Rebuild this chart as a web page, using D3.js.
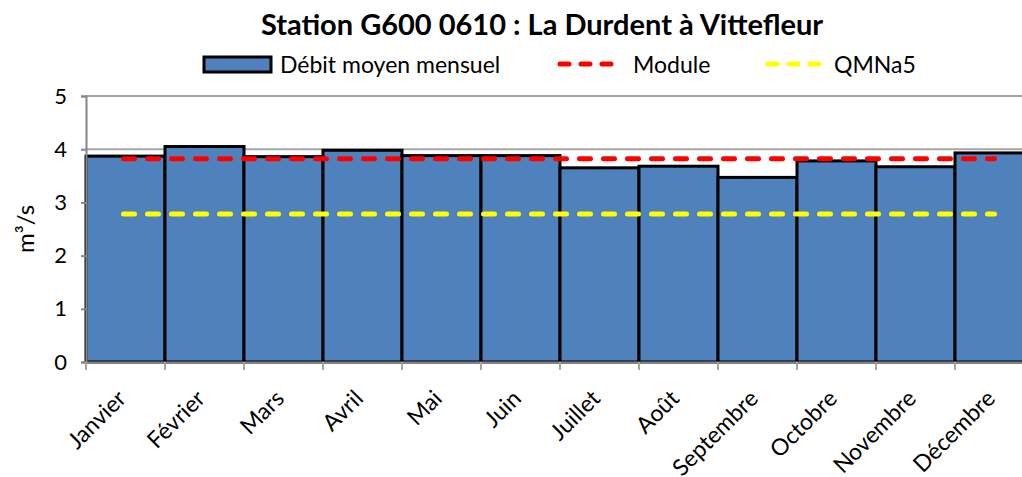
<!doctype html>
<meta charset="utf-8">
<title>Station G600 0610</title>
<style>
  body { margin: 0; background: #fff; }
  text { font-family: Lato, "Open Sans", sans-serif; fill: #000; }
</style>
<svg id="chart" width="1022" height="477"></svg>
<script src="https://cdn.jsdelivr.net/npm/d3@7"></script>
<script>

// months
var months = ["Janvier", "Février", "Mars", "Avril", "Mai", "Juin", "Juillet",
  "Août", "Septembre", "Octobre", "Novembre", "Décembre"];

// monthly mean flow (m3/s)
var debit = [3.87, 4.05, 3.86, 3.98, 3.88, 3.88, 3.65, 3.68, 3.47, 3.78, 3.67, 3.93];

// reference levels
var moduleVal = 3.82;
var qmna5 = 2.78;

var yTicks = [0, 1, 2, 3, 4, 5];

var svg = d3.select("#chart");
var plotLeft = 86, plotTop = 96, plotBottom = 362, bandW = 79;

var x = d3.scaleBand()
  .domain(months)
  .range([plotLeft, plotLeft + bandW * months.length])
  .padding(0);

var y = d3.scaleLinear()
  .domain([0, 5])
  .range([plotBottom, plotTop]);

// gridlines
svg.append("g")
  .selectAll("line")
  .data(yTicks.slice(1))
  .enter()
  .append("line")
  .attr("x1", plotLeft)
  .attr("x2", x.range()[1])
  .attr("y1", function(d) { return y(d); })
  .attr("y2", function(d) { return y(d); })
  .attr("stroke", "#a6a6a6")
  .attr("stroke-width", 2);

// bars
svg.append("g")
  .selectAll("rect")
  .data(debit)
  .enter()
  .append("rect")
  .attr("x", function(d, i) { return x(months[i]); })
  .attr("y", function(d) { return y(d); })
  .attr("width", x.bandwidth())
  .attr("height", function(d) { return y(0) - y(d); })
  .attr("fill", "#4f81bd")
  .attr("stroke", "#000")
  .attr("stroke-width", 3);

// y axis
var yAxis = svg.append("g")
  .attr("transform", "translate(" + plotLeft + ",0)")
  .call(d3.axisLeft(y).tickValues(yTicks).tickFormat(d3.format("d")).tickSize(5).tickPadding(14));
yAxis.select(".domain").attr("stroke", "#868686").attr("stroke-width", 2);
yAxis.selectAll(".tick line").attr("stroke", "#868686").attr("stroke-width", 2);
yAxis.selectAll("text").attr("font-size", 22).attr("font-family", "Lato, sans-serif").attr("fill", "#000");

// x axis
var xAxis = svg.append("g")
  .attr("transform", "translate(0," + plotBottom + ")")
  .call(d3.axisBottom(x).tickSize(0).tickFormat(""));
xAxis.select(".domain").attr("stroke", "#868686").attr("stroke-width", 2);

svg.append("g")
  .selectAll("line")
  .data(d3.range(months.length + 1))
  .enter()
  .append("line")
  .attr("x1", function(i) { return plotLeft + i * x.step(); })
  .attr("x2", function(i) { return plotLeft + i * x.step(); })
  .attr("y1", plotBottom)
  .attr("y2", plotBottom + 8)
  .attr("stroke", "#a6a6a6")
  .attr("stroke-width", 2);

svg.append("g")
  .selectAll("text")
  .data(months)
  .enter()
  .append("text")
  .attr("transform", function(d) {
    return "translate(" + (x(d) + x.bandwidth() / 2 + 2) + "," + (plotBottom + 38) + ") rotate(-45)";
  })
  .attr("text-anchor", "end")
  .attr("font-size", 23)
  .text(function(d) { return d; });

// reference lines
var xMid = function(m) { return x(m) + x.bandwidth() / 2; };
[[moduleVal, "#ff0000"], [qmna5, "#ffff00"]].forEach(function(r) {
  svg.append("line")
    .attr("x1", xMid(months[0]) - 2)
    .attr("x2", xMid(months[months.length - 1]))
    .attr("y1", y(r[0]))
    .attr("y2", y(r[0]))
    .attr("stroke", r[1])
    .attr("stroke-width", 5)
    .attr("stroke-linecap", "round")
    .attr("stroke-dasharray", "11,13");
});

// y title
svg.append("text")
  .attr("transform", "translate(34,229) rotate(-90)")
  .attr("text-anchor", "middle")
  .attr("font-size", 24)
  .text("m³/s");

// title
svg.append("text")
  .attr("x", 542)
  .attr("y", 35)
  .attr("text-anchor", "middle")
  .attr("font-size", 29)
  .attr("font-weight", "bold")
  .text("Station G600 0610 : La Durdent à Vittefleur");

// legend
var legend = svg.append("g");
legend.append("rect")
  .attr("x", 204).attr("y", 57).attr("width", 67).attr("height", 15)
  .attr("fill", "#4f81bd").attr("stroke", "#000").attr("stroke-width", 3);
legend.append("text").attr("x", 280).attr("y", 73).attr("font-size", 23).text("Débit moyen mensuel");
legend.append("line")
  .attr("x1", 560).attr("x2", 612).attr("y1", 64).attr("y2", 64)
  .attr("stroke", "#ff0000").attr("stroke-width", 5)
  .attr("stroke-linecap", "round").attr("stroke-dasharray", "9,12");
legend.append("text").attr("x", 633).attr("y", 73).attr("font-size", 23).text("Module");
legend.append("line")
  .attr("x1", 768).attr("x2", 820).attr("y1", 64).attr("y2", 64)
  .attr("stroke", "#ffff00").attr("stroke-width", 5)
  .attr("stroke-linecap", "round").attr("stroke-dasharray", "9,12");
legend.append("text").attr("x", 834).attr("y", 73).attr("font-size", 23).text("QMNa5");

</script>
